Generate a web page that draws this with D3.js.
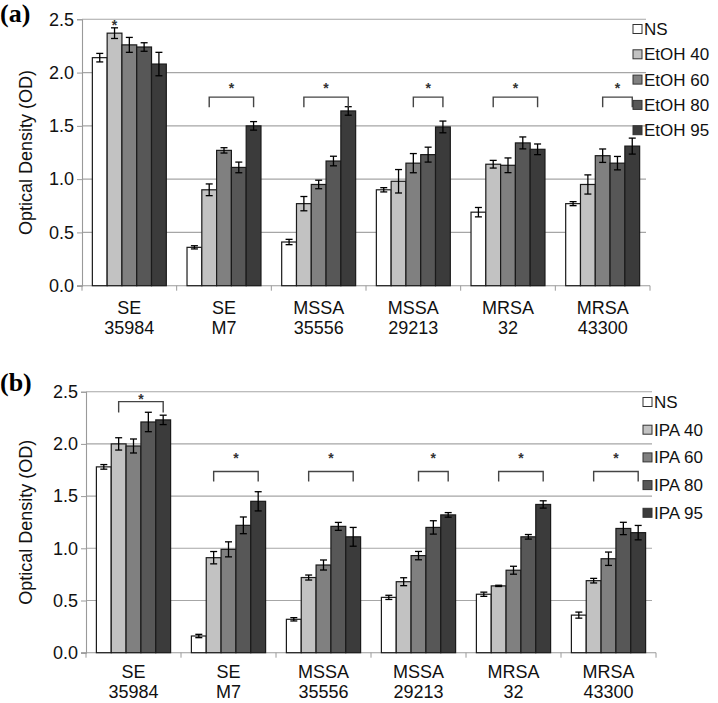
<!DOCTYPE html>
<html><head><meta charset="utf-8">
<script src="https://cdn.jsdelivr.net/npm/d3@7"></script>
<style>
html,body{margin:0;padding:0;background:#fff;}
svg{display:block;}
svg text{font-family:"Liberation Sans",Arial,Helvetica,sans-serif;}
svg text.plabel{font-family:"Liberation Serif","Times New Roman",serif;}
</style></head>
<body>
<svg id="chart" width="718" height="703"></svg>
<script>
// ---------- data ----------
const categories = [["SE","35984"],["SE","M7"],["MSSA","35556"],["MSSA","29213"],["MRSA","32"],["MRSA","43300"]];
const seriesA = ["NS","EtOH 40","EtOH 60","EtOH 80","EtOH 95"];
const seriesB = ["NS","IPA 40","IPA 60","IPA 80","IPA 95"];
const yTicks = [0.0, 0.5, 1.0, 1.5, 2.0, 2.5];

const valuesA = [
  [2.14, 2.37, 2.26, 2.24, 2.08],
  [0.36, 0.90, 1.27, 1.11, 1.50],
  [0.41, 0.77, 0.95, 1.17, 1.64],
  [0.90, 0.98, 1.15, 1.23, 1.49],
  [0.69, 1.14, 1.13, 1.34, 1.28],
  [0.77, 0.95, 1.22, 1.15, 1.31]
];
const errorsA = [
  [0.04, 0.05, 0.07, 0.04, 0.11],
  [0.015, 0.055, 0.025, 0.05, 0.04],
  [0.025, 0.067, 0.04, 0.045, 0.04],
  [0.02, 0.11, 0.09, 0.07, 0.055],
  [0.044, 0.036, 0.069, 0.056, 0.05],
  [0.019, 0.09, 0.063, 0.063, 0.075]
];
const valuesB = [
  [1.78, 2.00, 1.98, 2.21, 2.23],
  [0.16, 0.91, 0.99, 1.22, 1.45],
  [0.32, 0.72, 0.84, 1.21, 1.11],
  [0.53, 0.68, 0.93, 1.20, 1.32],
  [0.56, 0.64, 0.79, 1.11, 1.42],
  [0.36, 0.69, 0.90, 1.19, 1.15]
];
const errorsB = [
  [0.022, 0.059, 0.067, 0.093, 0.045],
  [0.016, 0.059, 0.072, 0.08, 0.092],
  [0.016, 0.024, 0.048, 0.038, 0.09],
  [0.02, 0.038, 0.04, 0.064, 0.022],
  [0.02, 0.006, 0.038, 0.022, 0.035],
  [0.029, 0.022, 0.064, 0.059, 0.069]
];
// significance markers: category, first and last series index, bracket level, leg bottom, star level
const sigA = [
  {cat:0, from:1, to:1, level:null, leg:null, star:2.47},
  {cat:1, from:1, to:4, level:1.77, leg:1.675, star:1.885},
  {cat:2, from:1, to:4, level:1.77, leg:1.675, star:1.885},
  {cat:3, from:2, to:4, level:1.77, leg:1.675, star:1.885},
  {cat:4, from:1, to:4, level:1.77, leg:1.675, star:1.885},
  {cat:5, from:2, to:4, level:1.77, leg:1.675, star:1.885}
];
const sigB = [
  {cat:0, from:1, to:4, level:2.405, leg:2.30, star:2.455},
  {cat:1, from:1, to:4, level:1.735, leg:1.64, star:1.893},
  {cat:2, from:1, to:4, level:1.735, leg:1.64, star:1.893},
  {cat:3, from:2, to:4, level:1.735, leg:1.64, star:1.893},
  {cat:4, from:1, to:4, level:1.735, leg:1.64, star:1.893},
  {cat:5, from:1, to:4, level:1.735, leg:1.64, star:1.893}
];
const fills = ["#ffffff", "#c2c2c2", "#808080", "#575757", "#3b3b3b"];

// ---------- drawing ----------
const svg = d3.select("#chart");

function panel(cfg) {
  const g = svg.append("g");
  const x = d3.scaleBand().domain(d3.range(categories.length)).range([cfg.x0, cfg.x1]);
  const xi = d3.scaleBand().domain(d3.range(cfg.series.length)).range([0, x.bandwidth()]).paddingInner(0).paddingOuter(0.7);
  const y = d3.scaleLinear().domain([0, 2.5]).range([cfg.y0, cfg.yTop]);

  // gridlines
  g.append("g").selectAll("line").data(yTicks.filter(t => t > 0)).join("line")
    .attr("x1", cfg.x0).attr("x2", cfg.gridEnd)
    .attr("y1", d => y(d)).attr("y2", d => y(d))
    .attr("stroke", "#a6a6a6").attr("stroke-width", 1.1);

  // y axis
  const ya = g.append("g").attr("transform", `translate(${cfg.x0},0)`)
    .call(d3.axisLeft(y).tickValues(yTicks).tickFormat(d3.format(".1f")).tickSize(5).tickPadding(3));
  ya.attr("font-family", null);
  ya.select(".domain").attr("stroke", "#9a9a9a").attr("stroke-width", 1.1);
  ya.selectAll(".tick line").attr("stroke", "#9a9a9a");
  ya.selectAll("text").attr("font-size", 18).attr("fill", "#111");

  // x axis baseline with category boundary ticks
  g.append("line").attr("x1", cfg.x0 - 5).attr("x2", cfg.x1)
    .attr("y1", cfg.y0).attr("y2", cfg.y0).attr("stroke", "#9a9a9a").attr("stroke-width", 1.1);
  g.append("g").selectAll("line").data(d3.range(categories.length + 1)).join("line")
    .attr("x1", i => cfg.x0 + i * x.step()).attr("x2", i => cfg.x0 + i * x.step())
    .attr("y1", cfg.y0).attr("y2", cfg.y0 + 5).attr("stroke", "#9a9a9a");

  // category labels
  const cl = g.append("g").selectAll("text").data(categories).join("text")
    .attr("x", (d, i) => x(i) + x.bandwidth() / 2)
    .attr("text-anchor", "middle").attr("font-size", 18).attr("fill", "#111");
  cl.append("tspan").attr("x", (d, i) => x(i) + x.bandwidth() / 2).attr("y", cfg.y0 + cfg.cat1).text(d => d[0]);
  cl.append("tspan").attr("x", (d, i) => x(i) + x.bandwidth() / 2).attr("y", cfg.y0 + cfg.cat2).text(d => d[1]);

  // bars
  const grp = g.append("g").selectAll("g").data(cfg.values).join("g")
    .attr("transform", (d, i) => `translate(${x(i)},0)`);
  grp.selectAll("rect").data(d => d).join("rect")
    .attr("x", (d, j) => xi(j)).attr("width", xi.bandwidth())
    .attr("y", d => y(d)).attr("height", d => cfg.y0 - y(d))
    .attr("fill", (d, j) => fills[j]).attr("stroke", "#1a1a1a").attr("stroke-width", 1.2);

  // error bars
  const eb = grp.selectAll("g.err").data((d, i) => d.map((v, j) => ({v, e: cfg.errors[i][j], j}))).join("g").attr("class", "err");
  eb.append("line").attr("x1", d => xi(d.j) + xi.bandwidth() / 2).attr("x2", d => xi(d.j) + xi.bandwidth() / 2)
    .attr("y1", d => y(d.v - d.e)).attr("y2", d => y(d.v + d.e)).attr("stroke", "#000").attr("stroke-width", 1.3);
  [-1, 1].forEach(s => {
    eb.append("line").attr("x1", d => xi(d.j) + xi.bandwidth() / 2 - 3.5).attr("x2", d => xi(d.j) + xi.bandwidth() / 2 + 3.5)
      .attr("y1", d => y(d.v + s * d.e)).attr("y2", d => y(d.v + s * d.e)).attr("stroke", "#000").attr("stroke-width", 1.3);
  });

  // significance brackets
  const sg = g.append("g").selectAll("g").data(cfg.sig).join("g");
  const cx = (c, j) => x(c) + xi(j) + xi.bandwidth() / 2;
  sg.filter(d => d.level !== null).append("path")
    .attr("d", d => `M${cx(d.cat, d.from)},${y(d.leg)}V${y(d.level)}H${cx(d.cat, d.to)}V${y(d.leg)}`)
    .attr("fill", "none").attr("stroke", "#444").attr("stroke-width", 1.4);
  sg.append("text").attr("x", d => (cx(d.cat, d.from) + cx(d.cat, d.to)) / 2)
    .attr("y", d => y(d.star) + 8).attr("text-anchor", "middle")
    .attr("font-size", 14).attr("font-weight", "bold").attr("fill", "#333").text("*");

  // y title
  g.append("text").attr("transform", `translate(${cfg.titleX},${(cfg.y0 + cfg.yTop) / 2}) rotate(-90)`)
    .attr("text-anchor", "middle").attr("font-size", 18).attr("fill", "#111").text("Optical Density (OD)");

  // panel label
  g.append("text").attr("class", "plabel").attr("x", 0).attr("y", cfg.labelY).attr("font-weight", "bold")
    .attr("font-size", 26).attr("fill", "#000").text(cfg.label);

  // legend
  const lg = g.append("g").selectAll("g").data(cfg.series).join("g")
    .attr("transform", (d, i) => `translate(${cfg.legX},${cfg.legY + i * cfg.legStep})`);
  lg.append("rect").attr("x", 0).attr("y", -4.5).attr("width", 9).attr("height", 9)
    .attr("fill", (d, i) => fills[i]).attr("stroke", "#333").attr("stroke-width", 1);
  lg.append("text").attr("x", 11).attr("y", 6).attr("font-size", 17).attr("fill", "#111").text(d => d);
}

panel({x0: 82, x1: 650, gridEnd: 646, yTop: 19.3, y0: 285.7, series: seriesA, values: valuesA, errors: errorsA,
       sig: sigA, titleX: 32, label: "(a)", labelY: 22, legX: 633, legY: 29, legStep: 25.3, cat1: 28, cat2: 48});
panel({x0: 86, x1: 656, gridEnd: 652, yTop: 391.7, y0: 652.7, series: seriesB, values: valuesB, errors: errorsB,
       sig: sigB, titleX: 32, label: "(b)", labelY: 391, legX: 643, legY: 402, legStep: 27.7, cat1: 25, cat2: 45});
</script>
</body></html>
